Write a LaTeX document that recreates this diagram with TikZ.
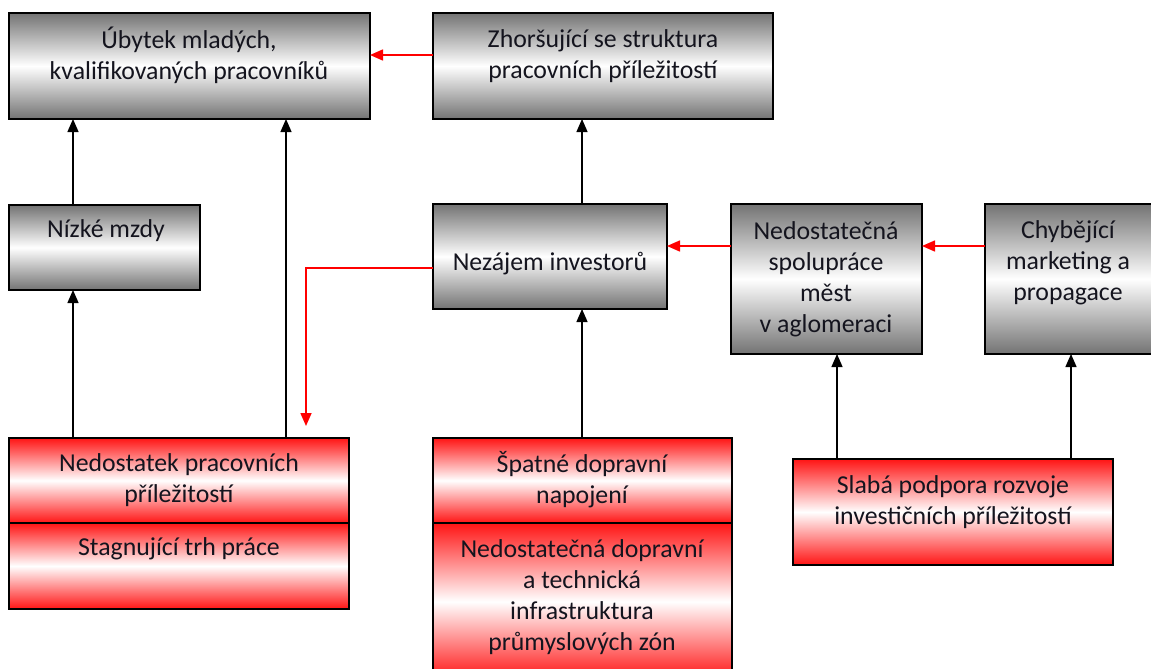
\documentclass[tikz,border=0pt]{standalone}
\usepackage{fontspec}
\setmainfont{Carlito}
\usetikzlibrary{arrows.meta}
\definecolor{boxgray}{RGB}{115,115,115}
\definecolor{boxred}{RGB}{255,20,20}
\definecolor{txt}{RGB}{20,20,30}
\tikzset{
  gbox/.style={draw=black, line width=1.8pt, top color=boxgray, bottom color=boxgray, middle color=white, inner sep=0pt, outer sep=0pt},
  rbox/.style={draw=black, line width=1.8pt, top color=boxred, bottom color=boxred, middle color=white, inner sep=0pt, outer sep=0pt},
  lbl/.style={align=center, text=txt, font=\fontsize{25.8}{31}\selectfont, inner sep=0pt},
  blk/.style={draw=black, line width=1.3pt, -{Triangle[width=11pt,length=13pt]}},
  redarr/.style={draw=red, line width=1.6pt, -{Triangle[width=11pt,length=13pt]}}
}
\begin{document}
\begin{tikzpicture}[x=1pt,y=-1pt]
\useasboundingbox (0,0) rectangle (1151,669);
% boxes
\node[gbox, minimum width=361pt, minimum height=106pt] (a) at (189.5,66) {};
\node[gbox, minimum width=340pt, minimum height=106pt] (b) at (603,66) {};
\node[gbox, minimum width=191pt, minimum height=85pt] (c) at (104.5,247.5) {};
\node[gbox, minimum width=234pt, minimum height=105pt] (d) at (550,256.5) {};
\node[gbox, minimum width=191pt, minimum height=150pt] (e) at (826.5,279) {};
\node[gbox, minimum width=175pt, minimum height=150pt] (f) at (1072.5,279) {};
\node[rbox, minimum width=340pt, minimum height=85pt] (g) at (179,480.5) {};
\node[rbox, minimum width=340pt, minimum height=86pt] (h) at (179,566) {};
\node[rbox, minimum width=299pt, minimum height=85pt] (i) at (582.5,480.5) {};
\node[rbox, minimum width=299pt, minimum height=157pt] (j) at (582.5,601.5) {};
\node[rbox, minimum width=320pt, minimum height=106pt] (k) at (953,512) {};
% texts
\node[lbl] (ta) at (189,55) {Úbytek mladých,\\kvalifikovaných pracovníků};
\node[lbl] (tb) at (603,56) {Zhoršující se struktura\\pracovních příležitostí};
\node[lbl] (tc) at (106,231) {Nízké mzdy};
\node[lbl] (td) at (550,264) {Nezájem investorů};
\node[lbl] (te) at (826,279) {Nedostatečná\\spolupráce\\měst\\v aglomeraci};
\node[lbl] (tf) at (1068,263) {Chybějící\\marketing a\\propagace};
\node[lbl] (tg) at (179,480) {Nedostatek pracovních\\příležitostí};
\node[lbl] (th) at (179,549) {Stagnující trh práce};
\node[lbl] (ti) at (582,480) {Špatné dopravní\\napojení};
\node[lbl] (tj) at (582,597) {Nedostatečná dopravní\\a technická\\infrastruktura\\průmyslových zón};
\node[lbl] (tk) at (953,502) {Slabá podpora rozvoje\\investičních příležitostí};
% helper coordinates
\coordinate (x73) at (73,0);
\coordinate (x286) at (286,0);
\coordinate (x306) at (306,0);
\coordinate (x582) at (582,0);
\coordinate (x837) at (837,0);
\coordinate (x1071) at (1071,0);
\coordinate (y55) at (0,55);
\coordinate (y246) at (0,246);
\coordinate (y268) at (0,268);
% connectors
\draw[redarr] (b.west |- y55) -- (a.east |- y55);
\draw[blk] (x73 |- c.north) -- (x73 |- a.south);
\draw[blk] (x286 |- g.north) -- (x286 |- a.south);
\draw[blk] (x73 |- g.north) -- (x73 |- c.south);
\draw[blk] (x582 |- d.north) -- (x582 |- b.south);
\draw[blk] (x582 |- i.north) -- (x582 |- d.south);
\draw[redarr] (e.west |- y246) -- (d.east |- y246);
\draw[redarr] (f.west |- y246) -- (e.east |- y246);
\draw[redarr, shorten >=12pt] (d.west |- y268) -| (x306 |- g.north);
\draw[blk] (x837 |- k.north) -- (x837 |- e.south);
\draw[blk] (x1071 |- k.north) -- (x1071 |- f.south);
\end{tikzpicture}
\end{document}
